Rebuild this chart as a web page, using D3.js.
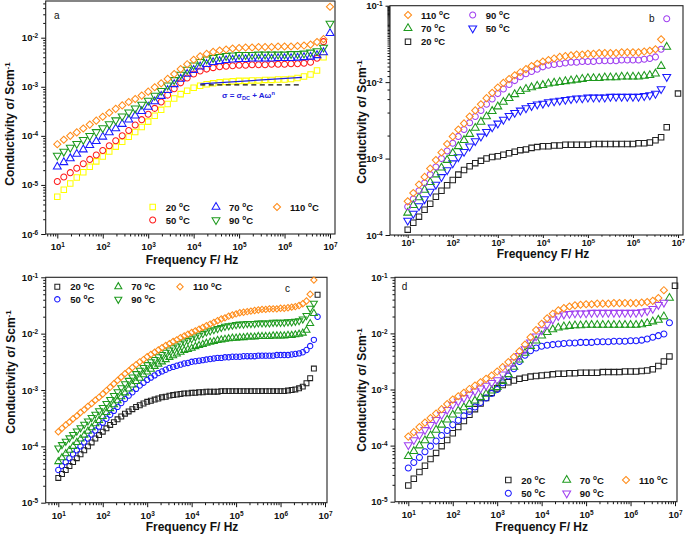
<!DOCTYPE html>
<html><head><meta charset="utf-8">
<script src="https://cdn.jsdelivr.net/npm/d3@7"></script>
<style>body{margin:0;background:#fff}svg{display:block}text{font-family:Arial,"Liberation Sans",sans-serif}</style>
</head><body>
<script>
// ---------------- DATA (conductivity given as log10 of σ in S/cm) ----------------
const temps = ["20", "50", "70", "90", "110"];

// frequencies (Hz)
const freqA = [10,13.9,19.3,26.8,37.3,51.8,72,
 100,139,193,268,373,518,720,
 1e3,1.39e3,1.93e3,2.68e3,3.73e3,5.18e3,7.2e3,
 1e4,1.39e4,1.93e4,2.68e4,3.73e4,5.18e4,7.2e4,
 1e5,1.39e5,1.93e5,2.68e5,3.73e5,5.18e5,7.2e5,
 1e6,1.39e6,1.93e6,2.68e6,3.73e6,5.18e6,7.2e6,1e7];
const freqBD = [10,13.3,17.8,23.7,31.6,42.2,56.2,75,
 100,133,178,237,316,422,562,750,
 1e3,1.33e3,1.78e3,2.37e3,3.16e3,4.22e3,5.62e3,7.5e3,
 1e4,1.33e4,1.78e4,2.37e4,3.16e4,4.22e4,5.62e4,7.5e4,
 1e5,1.33e5,1.78e5,2.37e5,3.16e5,4.22e5,5.62e5,7.5e5,
 1e6,1.33e6,1.78e6,2.37e6,3.16e6,4.22e6,5.62e6,7.5e6,1e7];
const freqC = [10,12.1,14.7,17.8,21.5,26.1,31.6,38.3,46.4,56.2,68.1,82.5,
 100,121,147,178,215,261,316,383,464,562,681,825,
 1e3,1.21e3,1.47e3,1.78e3,2.15e3,2.61e3,3.16e3,3.83e3,4.64e3,5.62e3,6.81e3,8.25e3,
 1e4,1.21e4,1.47e4,1.78e4,2.15e4,2.61e4,3.16e4,3.83e4,4.64e4,5.62e4,6.81e4,8.25e4,
 1e5,1.21e5,1.47e5,1.78e5,2.15e5,2.61e5,3.16e5,3.83e5,4.64e5,5.62e5,6.81e5,8.25e5,
 1e6,1.21e6,1.47e6,1.78e6,2.15e6,2.61e6,3.16e6,3.83e6,4.64e6,5.62e6,6.81e6];

// panel a
const a20 = [-5.24,-5.10,-4.97,-4.85,-4.74,-4.63,-4.52,-4.42,-4.32,-4.22,-4.12,-4.02,-3.92,-3.82,
 -3.71,-3.59,-3.47,-3.35,-3.24,-3.15,-3.08,-3.02,-2.98,-2.95,-2.93,-2.91,-2.90,-2.89,
 -2.88,-2.88,-2.87,-2.87,-2.86,-2.86,-2.85,-2.85,-2.84,-2.82,-2.79,-2.75,-2.67,-2.40];
const a50 = [-4.93,-4.84,-4.75,-4.66,-4.57,-4.48,-4.39,-4.30,-4.20,-4.10,-4.00,-3.89,-3.78,-3.67,
 -3.56,-3.44,-3.31,-3.17,-3.04,-2.92,-2.82,-2.74,-2.68,-2.64,-2.61,-2.59,-2.58,-2.57,
 -2.56,-2.56,-2.55,-2.55,-2.55,-2.54,-2.54,-2.54,-2.53,-2.53,-2.52,-2.50,-2.42,-2.08];
const a70 = [-4.63,-4.54,-4.46,-4.37,-4.28,-4.19,-4.11,-4.02,-3.93,-3.85,-3.76,-3.67,-3.59,-3.50,
 -3.41,-3.30,-3.19,-3.07,-2.95,-2.84,-2.74,-2.66,-2.59,-2.54,-2.50,-2.48,-2.46,-2.45,
 -2.44,-2.44,-2.43,-2.43,-2.43,-2.43,-2.42,-2.42,-2.42,-2.41,-2.40,-2.39,-2.36,-2.30,-1.91];
const a90 = [-4.40,-4.32,-4.24,-4.16,-4.08,-4.00,-3.92,-3.84,-3.76,-3.68,-3.60,-3.52,-3.44,-3.36,
 -3.28,-3.18,-3.08,-2.97,-2.86,-2.75,-2.65,-2.56,-2.49,-2.44,-2.41,-2.39,-2.37,-2.36,
 -2.35,-2.35,-2.35,-2.34,-2.34,-2.34,-2.34,-2.34,-2.33,-2.33,-2.32,-2.30,-2.27,-2.20,-1.71];
const a110 = [-4.17,-4.08,-4.00,-3.93,-3.85,-3.77,-3.69,-3.61,-3.53,-3.45,-3.38,-3.31,-3.25,-3.18,
 -3.10,-3.01,-2.93,-2.84,-2.74,-2.64,-2.54,-2.45,-2.38,-2.33,-2.29,-2.26,-2.24,-2.22,
 -2.21,-2.20,-2.20,-2.19,-2.19,-2.19,-2.18,-2.18,-2.18,-2.17,-2.16,-2.14,-2.09,-2.03,-1.37];
// fit annotation in panel a: [frequency, log10 σ]
const fitLineA = [[1.4e4,-2.94],[2.4e6,-2.81]];
const dcLineA = [[1.4e4,-2.96],[2.3e6,-2.96]];

// panel b
const b20 = [-3.93,-3.84,-3.76,-3.67,-3.59,-3.50,-3.42,-3.35,-3.28,-3.21,-3.15,-3.10,-3.06,-3.03,-3.00,-2.98,
 -2.97,-2.95,-2.93,-2.91,-2.89,-2.88,-2.86,-2.85,-2.84,-2.84,-2.83,-2.83,-2.82,-2.82,-2.82,-2.82,
 -2.82,-2.81,-2.81,-2.81,-2.81,-2.81,-2.81,-2.81,-2.81,-2.80,-2.80,-2.79,-2.76,-2.72,-2.59,null,-2.15];
const b50 = [-3.81,-3.72,-3.62,-3.53,-3.43,-3.34,-3.24,-3.15,-3.06,-2.98,-2.91,-2.84,-2.77,-2.71,-2.65,-2.59,
 -2.54,-2.49,-2.44,-2.40,-2.37,-2.34,-2.31,-2.29,-2.28,-2.26,-2.25,-2.24,-2.23,-2.22,-2.21,-2.21,
 -2.20,-2.20,-2.20,-2.20,-2.19,-2.19,-2.19,-2.19,-2.19,-2.19,-2.18,-2.17,-2.15,-2.09,-1.93];
const b70 = [-3.71,-3.61,-3.51,-3.41,-3.31,-3.21,-3.12,-3.02,-2.93,-2.84,-2.76,-2.68,-2.60,-2.52,-2.45,-2.38,
 -2.32,-2.26,-2.21,-2.16,-2.12,-2.09,-2.07,-2.05,-2.04,-2.02,-2.01,-2.00,-1.99,-1.98,-1.97,-1.96,
 -1.95,-1.95,-1.95,-1.94,-1.94,-1.94,-1.93,-1.93,-1.93,-1.93,-1.92,-1.91,-1.89,-1.79,-1.54];
const b90 = [-3.63,-3.53,-3.42,-3.32,-3.21,-3.11,-3.00,-2.90,-2.80,-2.71,-2.62,-2.53,-2.45,-2.37,-2.29,-2.22,
 -2.15,-2.09,-2.03,-1.98,-1.93,-1.89,-1.86,-1.83,-1.80,-1.78,-1.77,-1.76,-1.75,-1.74,-1.74,-1.73,
 -1.73,-1.73,-1.72,-1.72,-1.72,-1.72,-1.71,-1.71,-1.71,-1.71,-1.70,-1.69,-1.67,-1.57,-1.17];
const b110 = [-3.56,-3.45,-3.34,-3.24,-3.13,-3.02,-2.92,-2.81,-2.71,-2.62,-2.54,-2.45,-2.37,-2.29,-2.21,-2.14,
 -2.07,-2.01,-1.96,-1.91,-1.87,-1.83,-1.79,-1.76,-1.73,-1.71,-1.69,-1.67,-1.66,-1.65,-1.64,-1.64,
 -1.63,-1.63,-1.62,-1.62,-1.62,-1.62,-1.61,-1.61,-1.61,-1.61,-1.60,-1.59,-1.57,-1.44];

// panel c
const c20 = [-4.56,-4.49,-4.42,-4.35,-4.28,-4.21,-4.14,-4.07,-4.00,-3.93,-3.86,-3.80,
 -3.74,-3.68,-3.62,-3.57,-3.52,-3.47,-3.42,-3.38,-3.34,-3.30,-3.27,-3.24,
 -3.21,-3.19,-3.17,-3.15,-3.13,-3.12,-3.10,-3.09,-3.08,-3.07,-3.06,-3.06,
 -3.05,-3.05,-3.04,-3.04,-3.03,-3.03,-3.03,-3.03,-3.02,-3.02,-3.02,-3.02,
 -3.02,-3.02,-3.02,-3.02,-3.02,-3.02,-3.02,-3.02,-3.02,-3.02,-3.02,-3.02,
 -3.02,-3.02,-3.01,-3.00,-2.99,-2.97,-2.94,-2.88,-2.79,-2.62,-1.31];
const c50 = [-4.42,-4.35,-4.28,-4.21,-4.14,-4.07,-4.00,-3.93,-3.86,-3.79,-3.72,-3.65,
 -3.58,-3.51,-3.44,-3.37,-3.30,-3.23,-3.16,-3.10,-3.04,-2.98,-2.92,-2.87,
 -2.82,-2.78,-2.74,-2.70,-2.67,-2.64,-2.61,-2.59,-2.57,-2.55,-2.53,-2.52,
 -2.50,-2.49,-2.48,-2.47,-2.46,-2.45,-2.44,-2.43,-2.43,-2.42,-2.42,-2.41,
 -2.41,-2.41,-2.40,-2.40,-2.40,-2.40,-2.39,-2.39,-2.39,-2.39,-2.39,-2.38,
 -2.38,-2.38,-2.38,-2.37,-2.36,-2.35,-2.33,-2.29,-2.22,-2.11,-1.70];
const c70 = [-4.27,-4.20,-4.13,-4.07,-4.00,-3.93,-3.87,-3.80,-3.73,-3.67,-3.60,-3.54,
 -3.47,-3.40,-3.33,-3.26,-3.19,-3.12,-3.05,-2.98,-2.91,-2.85,-2.79,-2.73,
 -2.68,-2.63,-2.58,-2.54,-2.50,-2.46,-2.42,-2.39,-2.36,-2.33,-2.30,-2.28,
 -2.26,-2.23,-2.21,-2.19,-2.17,-2.15,-2.14,-2.12,-2.11,-2.10,-2.09,-2.08,
 -2.08,-2.07,-2.07,-2.06,-2.06,-2.06,-2.05,-2.05,-2.05,-2.05,-2.04,-2.04,
 -2.04,-2.04,-2.03,-2.03,-2.02,-2.01,-1.99,-1.94,-1.82,-1.64];
const c90 = [-4.03,-3.97,-3.91,-3.85,-3.79,-3.73,-3.67,-3.61,-3.55,-3.49,-3.43,-3.37,
 -3.31,-3.24,-3.17,-3.10,-3.03,-2.96,-2.89,-2.83,-2.77,-2.71,-2.65,-2.60,
 -2.55,-2.50,-2.46,-2.41,-2.37,-2.33,-2.29,-2.25,-2.22,-2.18,-2.15,-2.12,
 -2.09,-2.06,-2.03,-2.00,-1.97,-1.95,-1.93,-1.91,-1.89,-1.87,-1.86,-1.85,
 -1.84,-1.83,-1.83,-1.82,-1.82,-1.82,-1.81,-1.81,-1.81,-1.81,-1.80,-1.80,
 -1.80,-1.80,-1.79,-1.79,-1.78,-1.77,-1.74,-1.68,-1.55,-1.46];
const c110 = [-3.74,-3.68,-3.62,-3.57,-3.51,-3.46,-3.40,-3.35,-3.29,-3.24,-3.18,-3.13,
 -3.07,-3.01,-2.95,-2.89,-2.83,-2.77,-2.71,-2.66,-2.60,-2.55,-2.50,-2.46,
 -2.41,-2.37,-2.33,-2.29,-2.25,-2.21,-2.18,-2.14,-2.11,-2.07,-2.04,-2.01,
 -1.98,-1.95,-1.92,-1.89,-1.86,-1.83,-1.80,-1.77,-1.74,-1.72,-1.69,-1.67,
 -1.65,-1.63,-1.62,-1.61,-1.60,-1.59,-1.58,-1.57,-1.57,-1.56,-1.56,-1.56,
 -1.55,-1.55,-1.54,-1.53,-1.52,-1.50,-1.47,-1.42,-1.30,-1.05];

// panel d
const d20 = [-4.71,-4.59,-4.47,-4.36,-4.24,-4.13,-4.01,-3.90,-3.78,-3.67,-3.56,-3.45,-3.35,-3.25,-3.15,-3.06,
 -2.98,-2.92,-2.87,-2.84,-2.81,-2.79,-2.77,-2.76,-2.75,-2.74,-2.73,-2.72,-2.72,-2.71,-2.71,-2.70,
 -2.70,-2.70,-2.70,-2.69,-2.69,-2.69,-2.69,-2.68,-2.68,-2.68,-2.67,-2.66,-2.64,-2.58,-2.50,-2.41,-1.15];
const d50 = [-4.40,-4.30,-4.21,-4.11,-4.01,-3.92,-3.82,-3.73,-3.63,-3.55,-3.47,-3.39,-3.31,-3.23,-3.15,-3.07,
 -3.00,-2.88,-2.76,-2.63,-2.50,-2.39,-2.31,-2.26,-2.23,-2.21,-2.20,-2.19,-2.18,-2.17,-2.17,-2.16,
 -2.16,-2.16,-2.15,-2.15,-2.15,-2.14,-2.14,-2.14,-2.13,-2.13,-2.12,-2.10,-2.07,-2.04,-2.01,-1.81];
const d70 = [-4.19,-4.10,-4.00,-3.91,-3.82,-3.72,-3.63,-3.54,-3.45,-3.38,-3.32,-3.26,-3.20,-3.14,-3.08,-3.02,
 -2.96,-2.85,-2.73,-2.60,-2.47,-2.35,-2.23,-2.13,-2.04,-1.98,-1.93,-1.90,-1.88,-1.87,-1.86,-1.86,
 -1.85,-1.85,-1.85,-1.85,-1.85,-1.85,-1.85,-1.85,-1.85,-1.85,-1.84,-1.82,-1.79,-1.76,-1.70,-1.37];
const d90 = [-3.99,-3.90,-3.81,-3.72,-3.63,-3.54,-3.45,-3.36,-3.27,-3.21,-3.15,-3.09,-3.03,-2.98,-2.93,-2.88,
 -2.83,-2.73,-2.62,-2.51,-2.40,-2.28,-2.16,-2.05,-1.94,-1.84,-1.75,-1.69,-1.66,-1.65,-1.64,-1.64,
 -1.64,-1.63,-1.63,-1.63,-1.63,-1.63,-1.63,-1.63,-1.63,-1.63,-1.62,-1.60,-1.56,-1.49,-1.45];
const d110 = [-3.84,-3.76,-3.67,-3.59,-3.51,-3.43,-3.35,-3.26,-3.18,-3.12,-3.06,-2.99,-2.93,-2.87,-2.81,-2.75,
 -2.68,-2.60,-2.51,-2.42,-2.32,-2.20,-2.07,-1.94,-1.83,-1.73,-1.65,-1.59,-1.55,-1.52,-1.50,-1.49,
 -1.48,-1.48,-1.47,-1.47,-1.47,-1.46,-1.46,-1.46,-1.46,-1.46,-1.45,-1.44,-1.42,-1.37,-1.23];

const xTickExps = [1,2,3,4,5,6,7];

// ---------------- STYLE / LAYOUT ----------------
const C = {yellow:"#FFFF00", red:"#FF1A1A", blue:"#1A1AFF", green:"#1E9A1E", orange:"#FF8C1A", purple:"#A040F0", black:"#222"};

const panels = [
 {label:"a", lab:[54,19], freq:freqA, size:30,
  box:{l:45.7,r:335,t:1,b:234}, xa:[57.3,330], ya:[[1e-6,234],[1e-2,37.7]], yExps:[-6,-5,-4,-3,-2],
  xTick:[4.5,5,9.5], xTitle:[192,264], yTitle:[14,124],
  series:[
   {t:"20", v:a20, shape:"square", color:C.yellow, leg:[152.7,207]},
   {t:"50", v:a50, shape:"circle", color:C.red, leg:[152.7,220]},
   {t:"70", v:a70, shape:"up", color:C.blue, leg:[216,207]},
   {t:"90", v:a90, shape:"down", color:C.green, leg:[216,220]},
   {t:"110", v:a110, shape:"diamond", color:C.orange, leg:[277,207]}]},
 {label:"b", lab:[649,22], freq:freqBD, size:30,
  box:{l:390,r:683,t:5.7,b:235}, xa:[407.7,678], ya:[[1e-4,235],[1e-1,5.7]], yExps:[-4,-3,-2,-1],
  xTick:[3,1.5,9], xTitle:[543,258], yTitle:[366,122],
  series:[
   {t:"20", v:b20, shape:"square", color:C.black, leg:[408,41.7]},
   {t:"50", v:b50, shape:"down", color:C.blue, leg:[472.7,28.3]},
   {t:"70", v:b70, shape:"up", color:C.green, leg:[408,28.3]},
   {t:"90", v:b90, shape:"circle", color:C.purple, leg:[472.7,15]},
   {t:"110", v:b110, shape:"diamond", color:C.orange, leg:[408,15]}]},
 {label:"c", lab:[285,292], freq:freqC, size:24,
  box:{l:45.7,r:327,t:277.3,b:502.7}, xa:[58.3,325], ya:[[1e-5,502.7],[1e-1,277.3]], yExps:[-5,-4,-3,-2,-1],
  xTick:[4.5,5,9.5], xTitle:[192,531], yTitle:[15,372],
  series:[
   {t:"20", v:c20, shape:"square", color:C.black, leg:[57.3,286.7]},
   {t:"50", v:c50, shape:"circle", color:C.blue, leg:[57.3,299.3]},
   {t:"70", v:c70, shape:"up", color:C.green, leg:[118.3,286.7]},
   {t:"90", v:c90, shape:"down", color:C.green, leg:[118.3,299.3]},
   {t:"110", v:c110, shape:"diamond", color:C.orange, leg:[180,286.7]}]},
 {label:"d", lab:[401.7,290], freq:freqBD, size:30,
  box:{l:395,r:677,t:277.3,b:501.7}, xa:[408.3,675], ya:[[1e-5,501.7],[1e-1,277.3]], yExps:[-5,-4,-3,-2,-1],
  xTick:[4.5,5,9.5], xTitle:[541.7,531], yTitle:[366,390],
  series:[
   {t:"20", v:d20, shape:"square", color:C.black, leg:[508.3,480]},
   {t:"50", v:d50, shape:"circle", color:C.blue, leg:[508.3,493.3]},
   {t:"70", v:d70, shape:"up", color:C.green, leg:[566.7,480]},
   {t:"90", v:d90, shape:"down", color:C.purple, leg:[566.7,493.3]},
   {t:"110", v:d110, shape:"diamond", color:C.orange, leg:[626,480]}]}
];

// ---------------- DRAW ----------------
const svg = d3.select("body").append("svg").attr("width",685).attr("height",535);

function anchoredLog(d0,r0,d1,r1,rmin,rmax){
  const s = d3.scaleLog().domain([d0,d1]).range([r0,r1]);
  return d3.scaleLog().domain([s.invert(rmin), s.invert(rmax)]).range([rmin,rmax]);
}
function markerPath(shape,size){
  if(shape==="square") return d3.symbol(d3.symbolSquare,size)();
  if(shape==="circle") return d3.symbol(d3.symbolCircle,size*0.95)();
  if(shape==="up"||shape==="down") return d3.symbol(d3.symbolTriangle,size*0.9)();
  return d3.symbol(d3.symbolSquare,size*0.85)();
}
function markerRot(shape){ return shape==="down"?180:(shape==="diamond"?45:0); }
function isMajor(v){ const e=Math.log10(v); return Math.abs(e-Math.round(e))<1e-6; }

panels.forEach(p=>{
  const g = svg.append("g");
  const B = p.box;
  const x = anchoredLog(10,p.xa[0],1e7,p.xa[1],B.l,B.r);
  const y = anchoredLog(p.ya[0][0],p.ya[0][1],p.ya[1][0],p.ya[1][1],B.b,B.t);

  const allX = x.ticks(60).filter(v=>v>=x.domain()[0] && v<=x.domain()[1]);
  const allY = y.ticks(60).filter(v=>v>=y.domain()[0]*0.999 && v<=y.domain()[1]*1.001);

  // minor ticks
  g.append("g").attr("transform",`translate(0,${B.b})`)
    .call(d3.axisBottom(x).tickValues(allX.filter(v=>!isMajor(v))).tickSize(p.xTick[0]*0.55).tickSizeOuter(0).tickFormat(""))
    .call(a=>a.select(".domain").remove());
  g.append("g").attr("transform",`translate(${B.l},0)`)
    .call(d3.axisLeft(y).tickValues(allY.filter(v=>!isMajor(v))).tickSize(2.5).tickSizeOuter(0).tickFormat(""))
    .call(a=>a.select(".domain").remove());
  // major ticks + labels
  const fmt = sel=>sel.selectAll(".tick text").text(null).each(function(d){
      const t=d3.select(this);
      t.append("tspan").text("10");
      t.append("tspan").attr("dy","-0.45em").attr("font-size","0.68em").text(Math.round(Math.log10(d)));
  });
  const xa = g.append("g").attr("transform",`translate(0,${B.b})`)
    .call(d3.axisBottom(x).tickValues(xTickExps.map(e=>10**e)).tickSize(p.xTick[0]).tickSizeOuter(0).tickPadding(p.xTick[1]))
    .call(a=>a.select(".domain").remove())
    .attr("font-size",p.xTick[2]).attr("font-weight","bold").attr("font-family","Arial");
  fmt(xa);
  const ya = g.append("g").attr("transform",`translate(${B.l},0)`)
    .call(d3.axisLeft(y).tickValues(p.yExps.map(e=>10**e)).tickSize(4.5).tickSizeOuter(0).tickPadding(3))
    .call(a=>a.select(".domain").remove())
    .attr("font-size",9.5).attr("font-weight","bold").attr("font-family","Arial");
  fmt(ya);
  g.selectAll(".tick line").attr("stroke","#111");
  g.selectAll(".tick text").attr("fill","#111");

  // box
  g.append("rect").attr("x",B.l).attr("y",B.t).attr("width",B.r-B.l).attr("height",B.b-B.t)
    .attr("fill","none").attr("stroke","#222").attr("stroke-width",1.1);

  // series
  p.series.forEach(s=>{
    const pts = s.v.map((v,i)=>({f:p.freq[i], v})).filter(d=>d.v!==null);
    const path = markerPath(s.shape,p.size), rot = markerRot(s.shape);
    g.append("g").selectAll("path").data(pts).join("path")
      .attr("d",path)
      .attr("transform",d=>`translate(${x(d.f)},${y(10**d.v)}) rotate(${rot})`)
      .attr("fill","none").attr("stroke",s.color).attr("stroke-width",1.05);
    // legend
    g.append("path").attr("d",path)
      .attr("transform",`translate(${s.leg[0]},${s.leg[1]}) rotate(${rot})`)
      .attr("fill","none").attr("stroke",s.color).attr("stroke-width",1.05);
    const lt = g.append("text").attr("x",s.leg[0]+13).attr("y",s.leg[1]+3.5)
      .attr("font-size",9.5).attr("font-weight","bold").attr("fill","#111");
    lt.append("tspan").text(s.t+" ");
    lt.append("tspan").attr("dy",-3.5).attr("font-size",6.5).text("o");
    lt.append("tspan").attr("dy",3.5).text("C");
  });

  // annotation (panel a)
  if(p.label==="a"){
    const ln = d3.line().x(d=>x(d[0])).y(d=>y(10**d[1]));
    g.append("path").attr("d",ln(dcLineA)).attr("stroke","#111").attr("stroke-width",1.3)
      .attr("stroke-dasharray","5,3.5").attr("fill","none");
    g.append("path").attr("d",ln(fitLineA)).attr("stroke","#2222DD").attr("stroke-width",1.3).attr("fill","none");
    const tx = g.append("text").attr("x",x(1.6e5)).attr("y",y(10**-3.23)).attr("text-anchor","middle")
      .attr("font-size",8).attr("font-weight","bold").attr("fill","#2222DD");
    tx.append("tspan").text("σ = σ");
    tx.append("tspan").attr("dy",2).attr("font-size",5.5).text("DC");
    tx.append("tspan").attr("dy",-2).text(" + Aω");
    tx.append("tspan").attr("dy",-3).attr("font-size",5.5).text("n");
  }

  // panel letter
  g.append("text").attr("x",p.lab[0]).attr("y",p.lab[1]).attr("font-size",10).attr("fill","#111").text(p.label);

  // axis titles
  g.append("text").attr("x",p.xTitle[0]).attr("y",p.xTitle[1]).attr("text-anchor","middle")
    .attr("font-size",12).attr("font-weight","bold").attr("fill","#111").text("Frequency F/ Hz");
  const yt = g.append("text").attr("transform",`translate(${p.yTitle[0]},${p.yTitle[1]}) rotate(-90)`)
    .attr("text-anchor","middle").attr("font-size",12).attr("font-weight","bold").attr("fill","#111");
  yt.append("tspan").text("Conductivity σ/ Scm");
  yt.append("tspan").attr("dy",-4).attr("font-size",8).text("-1");
});
</script>
</body></html>
